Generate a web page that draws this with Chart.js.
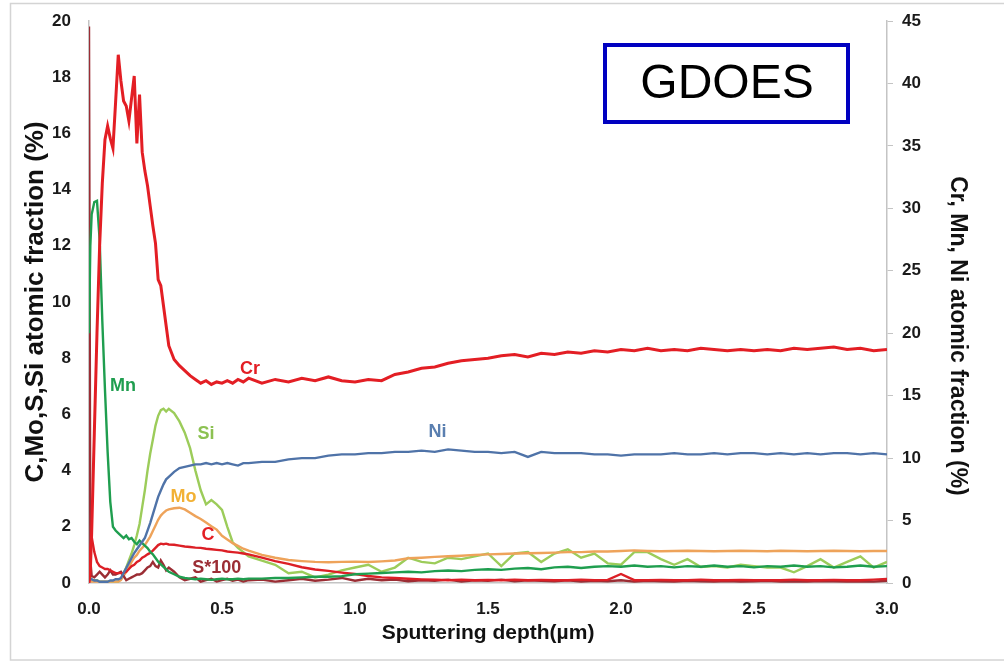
<!DOCTYPE html>
<html>
<head>
<meta charset="utf-8">
<script src="https://cdn.jsdelivr.net/npm/chart.js@4.4.0/dist/chart.umd.min.js"></script>
<style>
    html, body { margin: 0; padding: 0; background: #fff; }
    #wrap { width: 1004px; height: 663px; }
</style>
</head>
<body>
<div id="wrap"><canvas id="gdoesChart" width="1004" height="663"></canvas></div>
<script>
// Sputtering depth (um), finer near the surface
const depth = [0, 0.005, 0.01, 0.02, 0.03, 0.04, 0.05, 0.06, 0.07, 0.08, 0.09, 0.10, 0.11, 0.12, 0.13, 0.14, 0.15, 0.16, 0.17, 0.18, 0.19, 0.20, 0.21, 0.22, 0.23, 0.24, 0.25, 0.26, 0.27, 0.28, 0.29, 0.30,
    0.32, 0.34, 0.36, 0.38, 0.40, 0.42, 0.44, 0.46, 0.48, 0.50, 0.52, 0.54, 0.56, 0.58, 0.60,
    0.65, 0.70, 0.75, 0.80, 0.85, 0.90, 0.95, 1.00, 1.05, 1.10, 1.15, 1.20, 1.25, 1.30, 1.35, 1.40, 1.45, 1.50, 1.55, 1.60, 1.65, 1.70, 1.75, 1.80, 1.85, 1.90, 1.95, 2.00,
    2.05, 2.10, 2.15, 2.20, 2.25, 2.30, 2.35, 2.40, 2.45, 2.50, 2.55, 2.60, 2.65, 2.70, 2.75, 2.80, 2.85, 2.90, 2.95, 3.00];

// right axis (Cr, Mn, Ni)
const crValues = [0, 1, 4, 12, 20, 27, 32, 35.5, 36.6, 35.6, 34.8, 38.5, 42.3, 40.2, 38.6, 38.2, 37.0, 38.8, 40.6, 35.2, 39.1, 34.5, 33.0, 31.8, 30.2, 28.6, 27.2, 24.3, 23.8, 22.2, 20.6, 19.0,
    17.9, 17.4, 17.0, 16.6, 16.3, 16.0, 16.2, 15.9, 16.1, 16.0, 16.2, 16.0, 16.3, 16.1, 16.4,
    16.0, 16.3, 16.1, 16.4, 16.2, 16.5, 16.2, 16.1, 16.3, 16.2, 16.7, 16.9, 17.2, 17.3, 17.6, 17.8, 17.9, 18.0, 18.2, 18.3, 18.1, 18.4, 18.3, 18.5, 18.4, 18.6, 18.5, 18.7,
    18.6, 18.8, 18.6, 18.7, 18.6, 18.8, 18.7, 18.6, 18.7, 18.6, 18.7, 18.6, 18.8, 18.7, 18.8, 18.9, 18.7, 18.8, 18.6, 18.7];
const mnValues = [20, 27, 29.5, 30.5, 30.6, 27.5, 21.0, 15.5, 10.5, 6.5, 4.5, 4.2, 4.0, 3.8, 3.6, 3.8, 3.5, 3.6, 3.3, 3.1, 3.4, 3.2, 3.0, 2.8, 2.5, 2.3, 2.0, 1.7, 1.5, 1.3, 1.1, 0.9,
    0.7, 0.5, 0.4, 0.35, 0.3, 0.35, 0.3, 0.25, 0.3, 0.35, 0.3, 0.3, 0.35, 0.3, 0.35,
    0.35, 0.4, 0.4, 0.45, 0.5, 0.5, 0.55, 0.7, 0.75, 0.8, 0.85, 0.9, 0.85, 0.95, 1.0, 0.95, 1.05, 1.1, 1.05, 1.15, 1.2, 1.1, 1.25, 1.3, 1.2, 1.3, 1.35, 1.3,
    1.4, 1.3, 1.35, 1.25, 1.35, 1.3, 1.4, 1.3, 1.35, 1.25, 1.35, 1.3, 1.4, 1.3, 1.35, 1.25, 1.3, 1.4, 1.3, 1.35];
const niValues = [0.2, 0.3, 0.3, 0.2, 0.2, 0.1, 0.1, 0.1, 0.1, 0.2, 0.2, 0.3, 0.3, 0.4, 0.8, 1.2, 1.6, 2.0, 2.4, 2.7, 3.0, 3.3, 3.6, 4.2, 4.8, 5.5, 6.2, 6.9, 7.4, 7.9, 8.3, 8.5,
    8.9, 9.2, 9.3, 9.4, 9.5, 9.5, 9.6, 9.5, 9.6, 9.5, 9.6, 9.5, 9.4, 9.6, 9.6,
    9.7, 9.7, 9.9, 10.0, 10.0, 10.2, 10.3, 10.3, 10.4, 10.4, 10.5, 10.5, 10.6, 10.5, 10.7, 10.6, 10.5, 10.5, 10.4, 10.5, 10.1, 10.5, 10.4, 10.4, 10.4, 10.3, 10.3, 10.2,
    10.3, 10.3, 10.3, 10.4, 10.3, 10.3, 10.4, 10.3, 10.4, 10.4, 10.3, 10.4, 10.3, 10.4, 10.3, 10.4, 10.4, 10.3, 10.4, 10.3];

// left axis (C, Mo, S*100, Si)
const siValues = [0.3, 0.2, 0.1, 0.1, 0.1, 0.05, 0.05, 0.05, 0.05, 0.05, 0.05, 0.05, 0.05, 0.15, 0.35, 0.55, 0.8, 1.05, 1.35, 1.7, 2.1, 2.7, 3.3, 4.0, 4.6, 5.1, 5.6, 5.95, 6.15, 6.2, 6.1, 6.2,
    6.05, 5.75, 5.35, 4.8, 4.0, 3.3, 2.8, 2.95, 2.8, 2.6, 2.0, 1.45, 1.25, 1.1, 0.95,
    0.8, 0.65, 0.35, 0.4, 0.2, 0.3, 0.45, 0.55, 0.65, 0.4, 0.55, 0.9, 0.75, 0.7, 0.9, 0.85, 0.95, 1.05, 0.6, 1.05, 1.1, 0.75, 1.05, 1.2, 0.9, 1.05, 0.7, 0.65,
    1.1, 1.1, 0.85, 0.65, 0.85, 0.57, 0.6, 0.55, 0.65, 0.6, 0.55, 0.55, 0.38, 0.6, 0.85, 0.55, 0.75, 0.95, 0.55, 0.75];
const moValues = [0.1, 0.1, 0.05, 0.05, 0.05, 0.05, 0.05, 0.05, 0.05, 0.05, 0.05, 0.05, 0.05, 0.1, 0.25, 0.4, 0.55, 0.75, 0.9, 1.0, 1.15, 1.25, 1.35, 1.5, 1.65, 1.85, 2.05, 2.25, 2.4, 2.5, 2.58, 2.62,
    2.66, 2.68, 2.62, 2.5, 2.38, 2.28, 2.15, 2.02, 1.9, 1.68, 1.55, 1.42, 1.32, 1.22, 1.15,
    1.0, 0.9, 0.82, 0.78, 0.75, 0.74, 0.75, 0.76, 0.75, 0.77, 0.8, 0.88, 0.9, 0.93, 0.95, 0.97, 1.0, 1.02, 1.03, 1.05, 1.06, 1.07, 1.08, 1.1, 1.1, 1.12, 1.12, 1.14,
    1.16, 1.14, 1.13, 1.14, 1.15, 1.14, 1.13, 1.14, 1.15, 1.14, 1.13, 1.15, 1.14, 1.13, 1.14, 1.15, 1.14, 1.13, 1.14, 1.14];
const cValues = [0.5, 1.2, 1.64, 1.1, 0.75, 0.6, 0.55, 0.5, 0.5, 0.45, 0.4, 0.35, 0.35, 0.35, 0.35, 0.4, 0.5, 0.6, 0.65, 0.75, 0.8, 0.9, 0.95, 1.02, 1.07, 1.15, 1.25, 1.35, 1.4, 1.38, 1.4, 1.37,
    1.36, 1.33, 1.3, 1.28, 1.26, 1.25, 1.22, 1.2, 1.18, 1.16, 1.12, 1.1, 1.08, 1.05, 1.02,
    0.9, 0.78, 0.68, 0.56, 0.48, 0.43, 0.37, 0.32, 0.25, 0.2, 0.18, 0.15, 0.13, 0.12, 0.1, 0.12, 0.1, 0.11, 0.1, 0.12, 0.1, 0.11, 0.1, 0.1, 0.12, 0.1, 0.11, 0.32,
    0.1, 0.1, 0.11, 0.1, 0.1, 0.12, 0.1, 0.1, 0.11, 0.1, 0.1, 0.1, 0.12, 0.1, 0.1, 0.11, 0.1, 0.1, 0.12, 0.14];
const sValues = [19.8, 0.8, 0.25, 0.2, 0.3, 0.4, 0.3, 0.2, 0.3, 0.45, 0.3, 0.3, 0.35, 0.4, 0.25, 0.1, 0.15, 0.2, 0.25, 0.3, 0.3, 0.35, 0.45, 0.55, 0.6, 0.75, 0.6, 0.55, 0.8, 0.65, 0.45, 0.55,
    0.4, 0.2, 0.1, 0.15, 0.2, 0.05, 0.1, 0.15, 0.05, 0.1, 0.15, 0.08, 0.12, 0.05, 0.1,
    0.12, 0.05, 0.1, 0.15, 0.08, 0.12, 0.18, 0.08, 0.15, 0.1, 0.12, 0.06, 0.1, 0.08, 0.12, 0.05, 0.1, 0.08, 0.12, 0.06, 0.1, 0.08, 0.06, 0.1, 0.05, 0.08, 0.06, 0.1,
    0.05, 0.08, 0.06, 0.05, 0.08, 0.06, 0.05, 0.07, 0.05, 0.06, 0.08, 0.05, 0.06, 0.05, 0.07, 0.06, 0.05, 0.06, 0.05, 0.08];

const leftTicks = [0, 2, 4, 6, 8, 10, 12, 14, 16, 18, 20];
const rightTicks = [0, 5, 10, 15, 20, 25, 30, 35, 40, 45];
const depthTicks = [0, 0.5, 1.0, 1.5, 2.0, 2.5, 3.0];

const FONT = "'Liberation Sans', Arial, sans-serif";

function toPoints(values) {
    return depth.map((d, i) => ({ x: d, y: values[i] }));
}

// curve labels placed in data units
const notes = [
    { text: 'Cr', depth: 0.605, value: 17.1, axis: 'y1', color: '#e31e24' },
    { text: 'Mn', depth: 0.128, value: 15.8, axis: 'y1', color: '#1f9e4f' },
    { text: 'Ni', depth: 1.31, value: 12.1, axis: 'y1', color: '#5a7fb0' },
    { text: 'Si', depth: 0.44, value: 5.3, axis: 'y', color: '#8cc152' },
    { text: 'Mo', depth: 0.355, value: 3.07, axis: 'y', color: '#f2b134' },
    { text: 'C', depth: 0.447, value: 1.71, axis: 'y', color: '#e31e24' },
    { text: 'S*100', depth: 0.48, value: 0.54, axis: 'y', color: '#9b2d34' }
];

const decorPlugin = {
    id: 'decor',
    beforeDraw(chart) {
        const ctx = chart.ctx;
        ctx.save();
        ctx.fillStyle = '#ffffff';
        ctx.fillRect(0, 0, chart.width, chart.height);
        ctx.strokeStyle = '#d4d4d4';
        ctx.lineWidth = 1.5;
        ctx.strokeRect(10.5, 3.5, 1000, 656.5);
        ctx.restore();
    },
    afterDatasetsDraw(chart) {
        const ctx = chart.ctx;
        ctx.save();
        ctx.font = 'bold 18px ' + FONT;
        ctx.textAlign = 'center';
        ctx.textBaseline = 'middle';
        notes.forEach(n => {
            ctx.fillStyle = n.color;
            ctx.fillText(n.text, chart.scales.x.getPixelForValue(n.depth), chart.scales[n.axis].getPixelForValue(n.value));
        });

        // GDOES box
        ctx.strokeStyle = '#0000c0';
        ctx.lineWidth = 4;
        ctx.strokeRect(605, 45, 243, 77);
        ctx.fillStyle = '#000';
        ctx.font = '48px ' + FONT;
        ctx.fillText('GDOES', 727, 85);

        // right axis title
        ctx.translate(957, 336);
        ctx.rotate(Math.PI / 2);
        ctx.font = 'bold 23px ' + FONT;
        ctx.fillStyle = '#111';
        ctx.fillText('Cr, Mn, Ni atomic fraction (%)', 0, 0);
        ctx.restore();
    }
};

const ctx = document.getElementById('gdoesChart').getContext('2d');
const tickFont = { family: FONT, size: 17, weight: 'bold' };
const axisBorder = { display: true, color: '#c4c4c4', width: 1.5 };

const gdoesChart = new Chart(ctx, {
    type: 'line',
    data: {
        datasets: [
            { label: 'Cr', data: toPoints(crValues), yAxisID: 'y1', borderColor: '#e31e24', borderWidth: 3 },
            { label: 'Ni', data: toPoints(niValues), yAxisID: 'y1', borderColor: '#4f73a8' },
            { label: 'Mn', data: toPoints(mnValues), yAxisID: 'y1', borderColor: '#1f9e4f' },
            { label: 'C', data: toPoints(cValues), yAxisID: 'y', borderColor: '#dc1f26' },
            { label: 'S*100', data: toPoints(sValues), yAxisID: 'y', borderColor: '#9b2d34' },
            { label: 'Mo', data: toPoints(moValues), yAxisID: 'y', borderColor: '#eea35a' },
            { label: 'Si', data: toPoints(siValues), yAxisID: 'y', borderColor: '#9ccc5a' }
        ]
    },
    options: {
        responsive: false,
        animation: false,
        devicePixelRatio: 1,
        layout: { padding: { top: 21, left: 0, right: 0, bottom: 0 } },
        plugins: {
            legend: { display: false },
            tooltip: { enabled: false }
        },
        elements: {
            point: { radius: 0 },
            line: { borderWidth: 2.4, tension: 0, fill: false }
        },
        scales: {
            x: {
                type: 'linear',
                min: 0,
                max: 3,
                afterBuildTicks: s => { s.ticks = depthTicks.map(v => ({ value: v })); },
                ticks: { font: tickFont, color: '#1a1a1a', padding: 8, maxRotation: 0, callback: v => v.toFixed(1) },
                grid: { display: false },
                border: axisBorder,
                title: {
                    display: true,
                    text: 'Sputtering depth(µm)',
                    font: { family: FONT, size: 21, weight: 'bold' },
                    color: '#111',
                    padding: { top: 0, bottom: 17 }
                },
                afterFit: s => { s.height = 80; }
            },
            y: {
                position: 'left',
                min: 0,
                max: 20,
                afterBuildTicks: s => { s.ticks = leftTicks.map(v => ({ value: v })); },
                ticks: { font: tickFont, color: '#1a1a1a', padding: 10 },
                grid: { display: false },
                border: axisBorder,
                title: {
                    display: true,
                    text: 'C,Mo,S,Si atomic fraction (%)',
                    font: { family: FONT, size: 26, weight: 'bold' },
                    color: '#111',
                    padding: { top: 20, bottom: 0 }
                },
                afterFit: s => { s.width = 89; }
            },
            y1: {
                position: 'right',
                min: 0,
                max: 45,
                afterBuildTicks: s => { s.ticks = rightTicks.map(v => ({ value: v })); },
                ticks: { font: tickFont, color: '#1a1a1a', padding: 9 },
                grid: { display: true, drawOnChartArea: false, drawTicks: true, tickLength: 6, color: '#c4c4c4' },
                border: axisBorder,
                afterFit: s => { s.width = 117; }
            }
        }
    },
    plugins: [decorPlugin]
});
</script>
</body>
</html>
